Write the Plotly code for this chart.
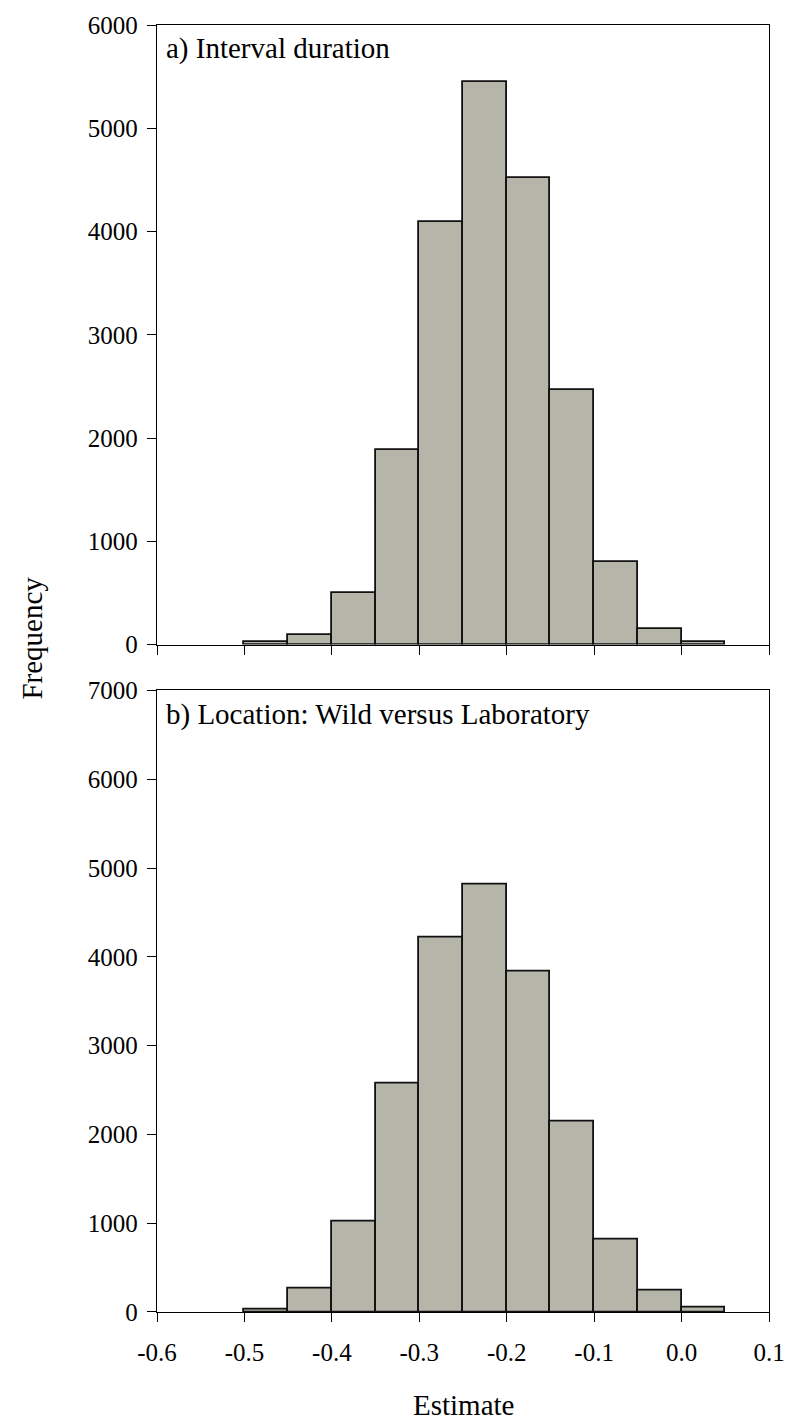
import plotly.graph_objects as go

bin_left = [-0.50, -0.45, -0.40, -0.35, -0.30, -0.25, -0.20, -0.15, -0.10, -0.05, 0.00]
bin_width = 0.05
counts_a = [20, 95, 500, 1885, 4090, 5450, 4520, 2470, 800, 155, 20]
counts_b = [30, 270, 1020, 2570, 4222, 4817, 3832, 2145, 820, 245, 50]

x_ticks = [-0.6, -0.5, -0.4, -0.3, -0.2, -0.1, 0.0, 0.1]
x_labels = ["-0.6", "-0.5", "-0.4", "-0.3", "-0.2", "-0.1", "0.0", "0.1"]
y_ticks_a = [0, 1000, 2000, 3000, 4000, 5000, 6000]
y_ticks_b = [0, 1000, 2000, 3000, 4000, 5000, 6000, 7000]

FONT = "Liberation Serif"
BAR_FILL = "#b5b5a9"
TICK_SIZE = 25
TEXT_SIZE = 29

fig = go.Figure()
fig.add_trace(go.Bar(x=bin_left, y=counts_a, width=bin_width, offset=0,
                     marker=dict(color=BAR_FILL, line=dict(color="#111111", width=1.8)),
                     xaxis="x", yaxis="y", showlegend=False))
fig.add_trace(go.Bar(x=bin_left, y=counts_b, width=bin_width, offset=0,
                     marker=dict(color=BAR_FILL, line=dict(color="#111111", width=1.8)),
                     xaxis="x2", yaxis="y2", showlegend=False))

axis_common = dict(showgrid=False, zeroline=False, showline=True, linecolor="black",
                   linewidth=1.4, mirror=True, ticks="outside", ticklen=9,
                   tickwidth=1.4, tickcolor="black",
                   tickfont=dict(family=FONT, size=TICK_SIZE, color="black"))

H_TOT = 1290.0
fig.update_layout(
    width=797, height=1423,
    margin=dict(l=157, r=18, t=22, b=111),
    paper_bgcolor="white", plot_bgcolor="white",
    bargap=0,
    xaxis=dict(domain=[0, 1], range=[-0.6, 0.1], tickvals=x_ticks, showticklabels=False,
               anchor="y", **axis_common),
    yaxis=dict(domain=[(1312 - 643) / H_TOT, 1], range=[0, 6000], tickvals=y_ticks_a,
               anchor="x", ticklabelstandoff=4, **axis_common),
    xaxis2=dict(domain=[0, 1], range=[-0.6, 0.1], tickvals=x_ticks, ticktext=x_labels,
                anchor="y2", ticklabelstandoff=9, **axis_common),
    yaxis2=dict(domain=[0, (1312 - 689) / H_TOT], range=[0, 7000], tickvals=y_ticks_b,
                anchor="x2", ticklabelstandoff=4, **axis_common),
    font=dict(family=FONT, color="black"),
    annotations=[
        dict(text="a) Interval duration", xref="paper", yref="paper",
             x=0.012, y=1 - 24 / H_TOT, xanchor="left", yanchor="middle",
             showarrow=False, font=dict(family=FONT, size=TEXT_SIZE, color="black")),
        dict(text="b) Location: Wild versus Laboratory", xref="paper", yref="paper",
             x=0.012, y=(1312 - 713) / H_TOT, xanchor="left", yanchor="middle",
             showarrow=False, font=dict(family=FONT, size=TEXT_SIZE, color="black")),
        dict(text="Frequency", xref="paper", yref="paper",
             x=-127 / 622, y=(1312 - 637) / H_TOT, xanchor="center", yanchor="middle",
             textangle=-90, showarrow=False, font=dict(family=FONT, size=TEXT_SIZE, color="black")),
        dict(text="Estimate", xref="paper", yref="paper",
             x=(468 - 157) / 622, y=-(1405 - 1312) / H_TOT, xanchor="center", yanchor="middle",
             showarrow=False, font=dict(family=FONT, size=TEXT_SIZE, color="black")),
    ],
)

fig.write_html("out.html")
